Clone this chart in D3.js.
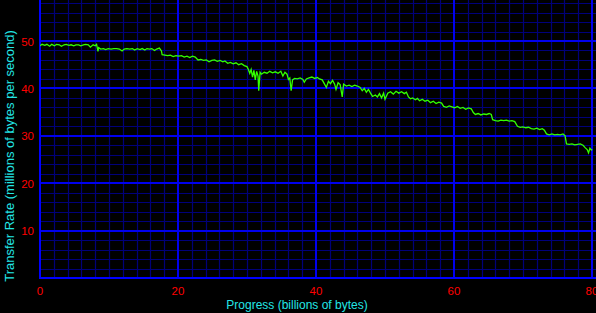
<!DOCTYPE html>
<html>
<head>
<meta charset="utf-8">
<script src="https://cdn.jsdelivr.net/npm/d3@7"></script>
<style>
  html, body { margin: 0; padding: 0; background: #000; }
  svg { display: block; }
</style>
</head>
<body>
<svg id="chart" width="596" height="313"></svg>
<script>
// ---- data ----
const xTickLabels = [0, 20, 40, 60, 80];
const yTickLabels = [10, 20, 30, 40, 50];
const xTitle = "Progress (billions of bytes)";
const yTitle = "Transfer Rate (millions of bytes per second)";
// [progress (billions of bytes), transfer rate (millions of bytes per second)]
const samples = [
  [0,49.0],[0.3,49.3],[0.7,49.1],[1.0,49.3],[1.4,48.9],[1.7,49.3],[2.1,49.0],[2.4,49.3],[2.8,49.2],[3.1,48.9],
  [3.5,49.2],[3.8,49.3],[4.2,49.1],[4.5,49.2],[4.9,49.0],[5.2,49.2],[5.6,49.2],[5.9,49.0],[6.3,49.2],[6.6,49.3],
  [7.0,49.2],[7.3,48.7],[7.7,49.2],[8.0,49.0],[8.2,49.3],[8.4,47.8],[8.5,48.6],[8.8,48.3],
  [9.2,48.4],[9.5,48.2],[9.9,48.4],[10.3,48.3],[10.7,48.4],[11.1,48.4],[11.5,48.3],[11.9,47.9],[12.2,48.3],[12.6,48.4],
  [13.0,48.3],[13.4,48.4],[13.7,48.1],[14.1,48.4],[14.5,48.2],[14.8,48.4],[15.2,48.1],[15.5,48.4],[15.9,48.3],[16.2,48.4],
  [16.6,48.0],[16.9,48.3],[17.3,48.5],[17.6,47.9],[17.7,47.1],
  [18.1,47.0],[18.5,46.9],[18.9,47.0],[19.3,46.7],[19.7,46.9],[20.1,46.8],[20.5,46.9],[20.9,46.6],
  [21.3,46.8],[21.7,46.5],[22.1,46.8],[22.5,46.6],[22.9,46.0],[23.3,46.1],[23.7,45.9],[24.1,46.0],[24.5,45.6],[24.9,45.9],
  [25.3,46.0],[25.7,45.7],[26.1,45.9],[26.5,45.6],[26.8,45.8],
  [27.2,45.3],[27.6,45.5],[28.0,45.2],[28.4,45.4],[28.8,45.0],[29.2,45.2],[29.6,44.8],[30.0,44.6],
  [30.2,44.0],[30.4,43.2],[30.6,44.0],[30.8,42.4],[31.0,43.8],[31.2,41.8],[31.4,43.6],[31.6,42.6],[31.7,39.5],[31.9,43.4],[32.1,43.0],
  [32.5,43.4],[32.9,43.2],[33.3,43.6],[33.7,43.3],[34.1,43.5],[34.5,43.2],[34.9,43.6],[35.2,42.6],[35.5,43.4],[35.8,43.0],
  [36.0,41.9],[36.2,42.2],[36.4,39.5],[36.6,41.8],[36.9,42.1],[37.3,42.0],[37.7,42.2],[38.1,41.9],[38.3,41.3],[38.6,42.0],
  [39.0,42.2],[39.4,42.4],[39.8,42.1],[40.2,42.3],[40.5,42.0],
  [40.9,41.8],[41.2,41.0],[41.5,40.2],[41.8,41.5],[42.1,41.0],[42.4,41.7],[42.7,40.9],[42.9,39.8],[43.2,41.2],[43.5,40.8],[43.8,38.2],[44.0,40.9],
  [44.4,40.5],[44.8,40.7],[45.2,40.4],[45.6,40.7],[46.0,40.5],
  [46.4,40.2],[46.7,39.5],[47.0,40.0],[47.3,39.2],[47.6,39.8],[47.9,39.0],[48.2,38.3],[48.6,38.6],[48.9,38.2],[49.2,38.9],[49.5,38.0],[49.8,39.0],
  [50.0,37.7],[50.4,39.0],[50.8,39.3],[51.2,38.8],[51.6,39.4],[52.0,39.0],[52.4,39.3],[52.8,38.9],[53.1,39.2],
  [53.4,38.2],[53.7,37.8],[54.0,38.0],[54.4,37.6],[54.7,37.9],[55.0,37.4],[55.4,37.7],[55.8,37.3],[56.2,37.5],[56.6,37.0],
  [57.0,37.3],[57.4,36.8],[57.8,37.1],[58.2,36.9],
  [58.5,36.2],[58.9,36.0],[59.3,36.3],[59.7,36.1],[60.1,35.9],[60.5,36.2],
  [60.9,35.8],[61.3,36.0],[61.7,35.6],[62.1,35.9],[62.5,35.7],
  [62.8,34.9],[63.1,34.5],[63.5,34.7],[63.9,34.4],[64.3,34.6],[64.7,34.5],[65.1,34.7],[65.4,34.5],
  [65.6,33.4],[66.0,33.2],[66.4,33.1],[66.8,33.3],[67.2,33.2],[67.6,33.3],[68.0,33.1],[68.4,33.2],[68.8,33.0],
  [69.2,32.0],[69.6,31.8],[70.0,31.9],[70.4,31.7],[70.8,31.8],[71.2,31.5],[71.6,31.4],[72.0,31.6],[72.4,31.3],[72.8,31.5],[73.1,31.2],
  [73.4,30.4],[73.8,30.2],[74.2,30.4],[74.6,30.2],[75.0,30.3],[75.4,30.2],[75.8,30.4],[76.1,30.0],
  [76.3,28.3],[76.7,28.2],[77.1,28.3],[77.5,28.1],[77.9,28.2],[78.3,28.3],[78.7,28.0],
  [79.0,27.5],[79.3,27.1],[79.5,26.4],[79.7,27.4],[79.9,27.0],[80.0,27.2]
];

// ---- layout ----
const W = 596, H = 313;
const plot = { left: 40, right: 596, top: 0, bottom: 278 };

const svg = d3.select("#chart");
svg.append("rect").attr("width", W).attr("height", H).attr("fill", "#000");

const x = d3.scaleLinear().domain([0, 80]).range([40, 592]);
const y = d3.scaleLinear().domain([0, 50]).range([278, 41]);

const xMax = x.invert(plot.right);
const yMax = y.invert(plot.top);

// grid
const grid = svg.append("g");
const xMinor = d3.range(0, xMax + 0.001, 2);
const yMinor = d3.range(0, yMax + 0.001, 2);

grid.selectAll("line.vx").data(xMinor.filter(v => v % 20 !== 0)).join("line")
  .attr("x1", d => Math.round(x(d)) + 0.5).attr("x2", d => Math.round(x(d)) + 0.5)
  .attr("y1", plot.top).attr("y2", plot.bottom)
  .attr("stroke", "#00007a").attr("stroke-width", 1.2);
grid.selectAll("line.hy").data(yMinor.filter(v => v % 10 !== 0)).join("line")
  .attr("y1", d => Math.round(y(d)) + 0.5).attr("y2", d => Math.round(y(d)) + 0.5)
  .attr("x1", plot.left).attr("x2", plot.right)
  .attr("stroke", "#00007a").attr("stroke-width", 1.2);

grid.selectAll("line.vmaj").data(xTickLabels.filter(v => v > 0)).join("line")
  .attr("x1", d => Math.round(x(d))).attr("x2", d => Math.round(x(d)))
  .attr("y1", plot.top).attr("y2", plot.bottom)
  .attr("stroke", "#0000ee").attr("stroke-width", 2);
grid.selectAll("line.hmaj").data(yTickLabels).join("line")
  .attr("y1", d => Math.round(y(d))).attr("y2", d => Math.round(y(d)))
  .attr("x1", plot.left).attr("x2", plot.right)
  .attr("stroke", "#0000ee").attr("stroke-width", 2);

// axes lines
svg.append("line").attr("x1", 40).attr("x2", 40).attr("y1", 0).attr("y2", 279)
  .attr("stroke", "#0000ff").attr("stroke-width", 2);
svg.append("line").attr("x1", 39).attr("x2", plot.right).attr("y1", 278).attr("y2", 278)
  .attr("stroke", "#0000ff").attr("stroke-width", 2);

// data line
svg.append("defs").append("clipPath").attr("id", "clip")
  .append("rect").attr("x", 40).attr("y", 0).attr("width", 556).attr("height", 278);
svg.append("path")
  .datum(samples)
  .attr("clip-path", "url(#clip)")
  .attr("fill", "none")
  .attr("stroke", "#33ff00")
  .attr("stroke-width", 1.3)
  .attr("stroke-linejoin", "miter")
  .attr("d", d3.line().x(d => x(d[0])).y(d => y(d[1])));

// tick labels
const font = "'Liberation Sans', Arial, sans-serif";
svg.append("g").selectAll("text").data(yTickLabels).join("text")
  .attr("x", 34).attr("y", d => y(d) + 4.5)
  .attr("text-anchor", "end")
  .attr("font-family", font).attr("font-size", 11.5)
  .attr("fill", "#ff0000")
  .text(d => d);
svg.append("g").selectAll("text").data(xTickLabels).join("text")
  .attr("x", d => x(d)).attr("y", 295)
  .attr("text-anchor", "middle")
  .attr("font-family", font).attr("font-size", 11.5)
  .attr("fill", "#ff0000")
  .text(d => d);

// titles
svg.append("text")
  .attr("x", 297).attr("y", 309)
  .attr("text-anchor", "middle")
  .attr("font-family", font).attr("font-size", 12)
  .attr("fill", "#22e6e6")
  .text(xTitle);
svg.append("text")
  .attr("transform", "translate(14,156) rotate(-90)")
  .attr("text-anchor", "middle")
  .attr("font-family", font).attr("font-size", 13)
  .attr("fill", "#22e6e6")
  .text(yTitle);
</script>
</body>
</html>
